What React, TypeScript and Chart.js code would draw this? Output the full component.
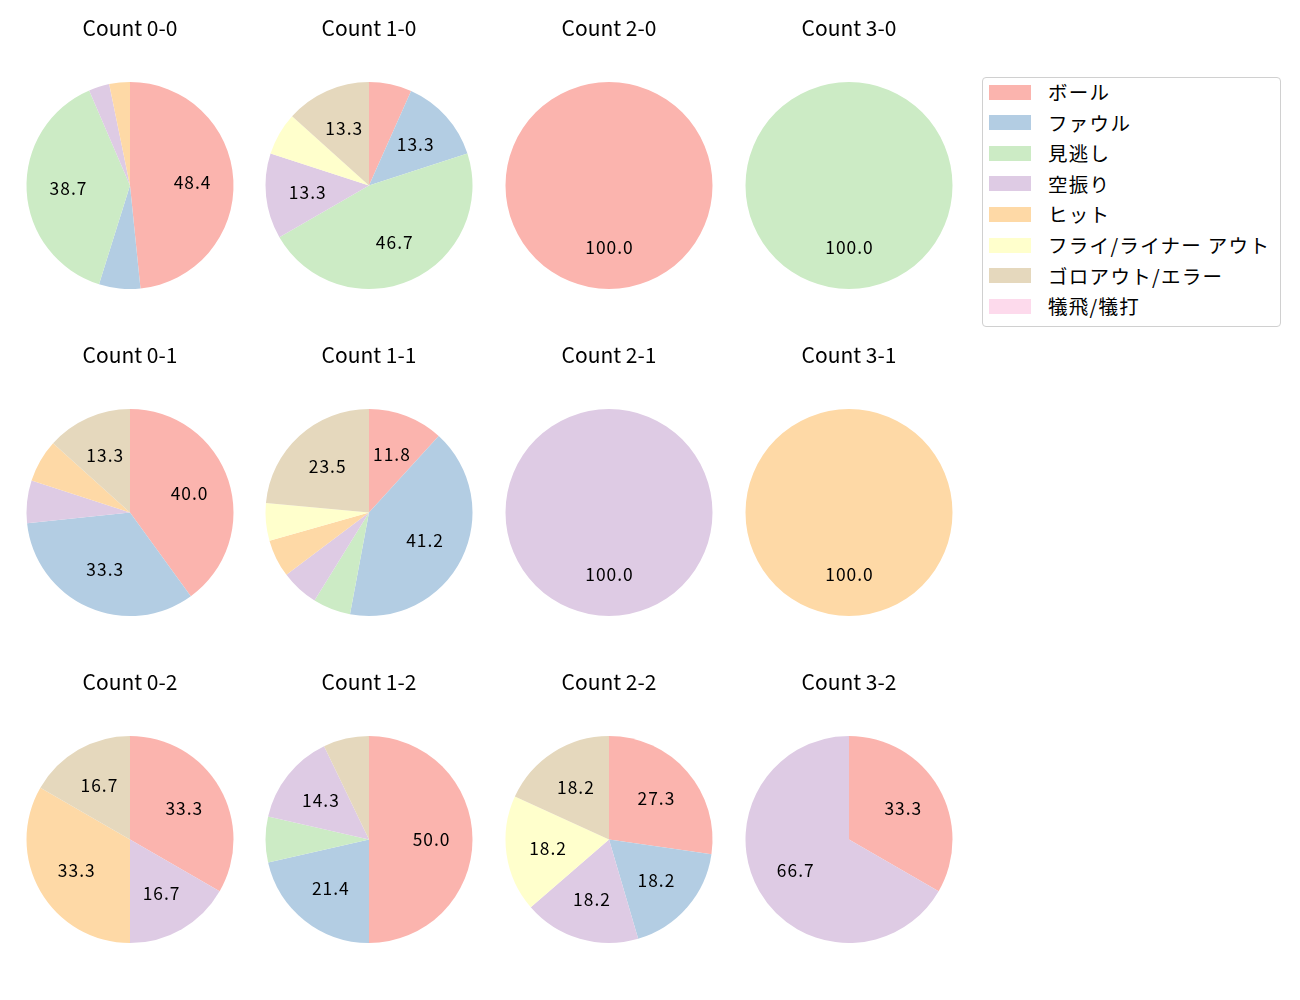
import React, { useEffect, useRef } from "react";
import { Chart, registerables } from "chart.js";

Chart.register(...registerables);

const categories = [
  "ボール",
  "ファウル",
  "見逃し",
  "空振り",
  "ヒット",
  "フライ/ライナー アウト",
  "ゴロアウト/エラー",
  "犠飛/犠打",
];
const colors = ["#fbb4ae", "#b3cde3", "#ccebc5", "#decbe4", "#fed9a6", "#ffffcc", "#e5d8bd", "#fddaec"];

const titles = [
  "Count 0-0", "Count 1-0", "Count 2-0", "Count 3-0",
  "Count 0-1", "Count 1-1", "Count 2-1", "Count 3-1",
  "Count 0-2", "Count 1-2", "Count 2-2", "Count 3-2",
];

const count00 = [15, 2, 12, 1, 1, 0, 0, 0];
const count10 = [1, 2, 7, 2, 0, 1, 2, 0];
const count20 = [1, 0, 0, 0, 0, 0, 0, 0];
const count30 = [0, 0, 1, 0, 0, 0, 0, 0];
const count01 = [6, 5, 0, 1, 1, 0, 2, 0];
const count11 = [2, 7, 1, 1, 1, 1, 4, 0];
const count21 = [0, 0, 0, 1, 0, 0, 0, 0];
const count31 = [0, 0, 0, 0, 1, 0, 0, 0];
const count02 = [2, 0, 0, 1, 2, 0, 1, 0];
const count12 = [7, 3, 1, 2, 0, 0, 1, 0];
const count22 = [3, 2, 0, 2, 0, 2, 2, 0];
const count32 = [1, 0, 0, 2, 0, 0, 0, 0];

const allCounts = [
  count00, count10, count20, count30,
  count01, count11, count21, count31,
  count02, count12, count22, count32,
];

const FONT = "'Noto Sans CJK JP', 'Noto Sans', sans-serif";
const colCenters = [129.5, 369, 609, 849];
const rowTops = [0, 327, 654];
const CANVAS_W = 240;
const CANVAS_H = 292;
const TITLE_SIZE = 21;

const pctLabels = {
  id: "pctLabels",
  afterDatasetsDraw(chart: any) {
    const ctx = chart.ctx;
    const meta = chart.getDatasetMeta(0);
    const data = chart.data.datasets[0].data as number[];
    const total = data.reduce((a, b) => a + b, 0);
    ctx.save();
    ctx.fillStyle = "#000";
    ctx.font = `17.4px ${FONT}`;
    ctx.textAlign = "center";
    ctx.textBaseline = "middle";
    try {
      (ctx as any).letterSpacing = "1px";
    } catch (e) {}
    meta.data.forEach((arc: any, i: number) => {
      const v = data[i];
      const pct = (v / total) * 100;
      if (pct < 10) return;
      const { x, y, startAngle, endAngle, outerRadius } = arc.getProps(
        ["x", "y", "startAngle", "endAngle", "outerRadius"],
        true
      );
      const mid = (startAngle + endAngle) / 2;
      const r = outerRadius * 0.6;
      ctx.fillText(pct.toFixed(1), x + r * Math.cos(mid) + 0.5, y + r * Math.sin(mid));
    });
    ctx.restore();
  },
};

function Pie({ idx }: { idx: number }) {
  const ref = useRef<HTMLCanvasElement>(null);
  useEffect(() => {
    const chart = new Chart(ref.current!, {
      type: "pie",
      data: {
        labels: categories,
        datasets: [
          {
            data: allCounts[idx],
            backgroundColor: colors,
            borderWidth: 0,
          },
        ],
      },
      options: {
        animation: false,
        responsive: false,
        events: [],
        layout: { padding: { left: 16.5, right: 16.5, top: 0, bottom: 3 } },
        plugins: {
          legend: { display: false },
          tooltip: { enabled: false },
          title: {
            display: true,
            text: titles[idx],
            color: "#000",
            font: { family: FONT, size: TITLE_SIZE, weight: "normal", lineHeight: 1.2 },
            padding: { top: 15.4, bottom: 41.4 },
          },
        },
      },
      plugins: [pctLabels],
    });
    return () => chart.destroy();
  }, [idx]);
  const col = idx % 4;
  const row = Math.floor(idx / 4);
  return (
    <canvas
      ref={ref}
      width={CANVAS_W}
      height={CANVAS_H}
      style={{
        position: "absolute",
        left: colCenters[col] - CANVAS_W / 2,
        top: rowTops[row],
        width: CANVAS_W,
        height: CANVAS_H,
      }}
    />
  );
}

export default function App() {
  return (
    <div style={{ position: "absolute", left: 0, top: 0, width: 1300, height: 1000, background: "#fff" }}>
      {titles.map((_, i) => (
        <Pie key={i} idx={i} />
      ))}
      <div
        style={{
          position: "absolute",
          left: 982,
          top: 77,
          width: 297,
          height: 248,
          border: "1px solid #d0d0d0",
          borderRadius: 4,
          background: "rgba(255,255,255,0.8)",
          fontFamily: FONT,
          fontSize: 19.5,
          color: "#000",
        }}
      >
        {categories.map((c, i) => (
          <div
            key={c}
            style={{ position: "absolute", left: 6, top: i * 30.6 - 1, height: 30, display: "flex", alignItems: "center" }}
          >
            <span style={{ display: "inline-block", width: 42, height: 15, background: colors[i] }} />
            <span style={{ marginLeft: 17, whiteSpace: "nowrap", lineHeight: "22px", letterSpacing: 1.3 }}>{c}</span>
          </div>
        ))}
      </div>
    </div>
  );
}
